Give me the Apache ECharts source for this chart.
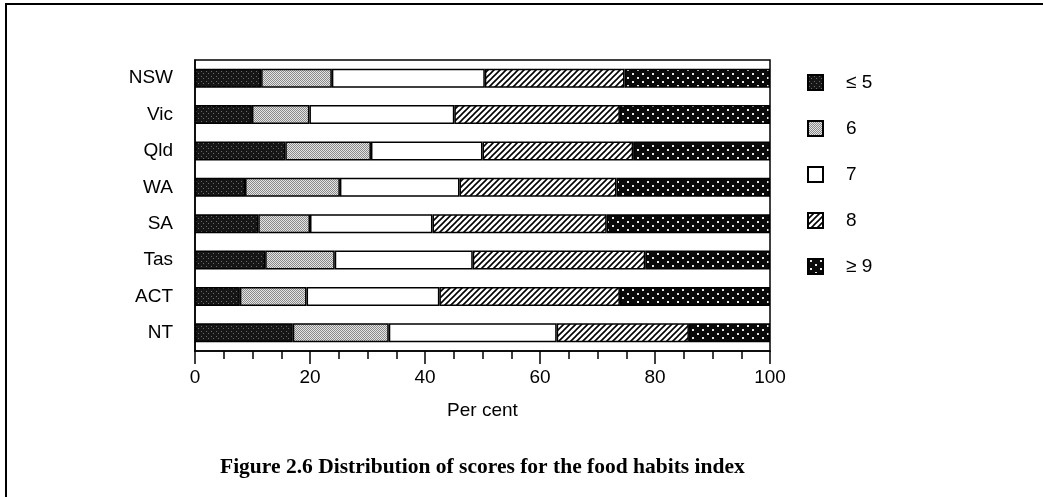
<!DOCTYPE html>
<html>
<head>
<meta charset="utf-8">
<script src="https://cdn.jsdelivr.net/npm/echarts@6/dist/echarts.min.js"></script>
<style>
  html, body { margin: 0; padding: 0; background: #fff; }
  #chart { width: 1043px; height: 497px; }
</style>
</head>
<body>
<div id="chart"></div>
<script>
  // states, top to bottom
  var states = ["NSW", "Vic", "Qld", "WA", "SA", "Tas", "ACT", "NT"];
  var scoreNames = ["\u2264 5", "6", "7", "8", "\u2265 9"];
  // per cent in each score band
  var le5 = [11.5, 9.9, 15.7, 8.7, 11.0, 12.2, 7.8, 17.0];
  var s6  = [12.3, 10.0, 14.9, 16.5, 9.0, 12.1, 11.6, 16.7];
  var s7  = [26.6, 25.2, 19.4, 20.8, 21.3, 24.0, 23.1, 29.2];
  var s8  = [24.3, 28.8, 26.2, 27.3, 30.3, 30.0, 31.4, 23.0];
  var ge9 = [25.3, 26.1, 23.8, 26.7, 28.4, 21.7, 26.1, 14.1];
  var xTicks = [0, 20, 40, 60, 80, 100];

  // small canvas patterns to mimic the print shadings
  function makePattern(w, h, draw) {
    var c = document.createElement("canvas");
    c.width = w; c.height = h;
    draw(c.getContext("2d"));
    return { image: c, repeat: "repeat" };
  }
  var patDark = makePattern(5, 5, function (g) {
    g.fillStyle = "#161616"; g.fillRect(0, 0, 5, 5);
    g.fillStyle = "#6a6a6a"; g.fillRect(1, 1, 1, 1); g.fillRect(3, 3, 1, 1);
  });
  var patLight = makePattern(2, 2, function (g) {
    g.fillStyle = "#e4e4e4"; g.fillRect(0, 0, 2, 2);
    g.fillStyle = "#8a8a8a"; g.fillRect(0, 0, 1, 1); g.fillRect(1, 1, 1, 1);
  });
  var patHatch = makePattern(6, 6, function (g) {
    g.fillStyle = "#fff"; g.fillRect(0, 0, 6, 6);
    g.strokeStyle = "#000"; g.lineWidth = 1.6;
    g.beginPath();
    g.moveTo(-1, 7); g.lineTo(7, -1);
    g.moveTo(-1, 1); g.lineTo(1, -1);
    g.moveTo(5, 7); g.lineTo(7, 5);
    g.stroke();
  });
  var patDots = makePattern(10, 8, function (g) {
    g.fillStyle = "#0a0a0a"; g.fillRect(0, 0, 10, 8);
    g.fillStyle = "#e8e8e8"; g.fillRect(2, 1, 2, 2); g.fillRect(7, 5, 2, 2);
  });

  var fills = [patDark, patLight, "#ffffff", patHatch, patDots];
  var values = [le5, s6, s7, s8, ge9];

  var chart = echarts.init(document.getElementById("chart"));
  chart.setOption({
    animation: false,
    textStyle: { fontFamily: "Liberation Sans, Arial, sans-serif", color: "#000" },
    title: {
      text: "Figure 2.6 Distribution of scores for the food habits index",
      left: 215,
      top: 451,
      textStyle: {
        fontFamily: "Liberation Serif, serif",
        fontWeight: "bold",
        fontSize: 21.5,
        color: "#000"
      }
    },
    graphic: [
      { type: "line", shape: { x1: 5, y1: 4, x2: 1043, y2: 4 }, style: { stroke: "#000", lineWidth: 2 } },
      { type: "line", shape: { x1: 6, y1: 4, x2: 6, y2: 497 }, style: { stroke: "#000", lineWidth: 2 } }
    ],
    legend: {
      orient: "vertical",
      left: 802,
      top: 68,
      icon: "rect",
      itemWidth: 15,
      itemHeight: 15,
      itemGap: 27,
      selectedMode: false,
      textStyle: { fontSize: 19, color: "#000", padding: [0, 0, 0, 18] },
      data: scoreNames
    },
    grid: {
      left: 195,
      right: 273,
      top: 60,
      bottom: 146,
      show: true,
      borderColor: "#000",
      borderWidth: 1.5
    },
    xAxis: {
      type: "value",
      min: 0,
      max: 100,
      interval: 20,
      name: "Per cent",
      nameLocation: "middle",
      nameGap: 50,
      nameTextStyle: { fontSize: 19, color: "#000" },
      axisLine: { show: true, lineStyle: { color: "#000", width: 1.5 } },
      axisTick: { show: true, length: 13, lineStyle: { color: "#000", width: 1.5 } },
      minorTick: { show: true, splitNumber: 4, length: 8, lineStyle: { color: "#000", width: 1.5 } },
      splitLine: { show: false },
      axisLabel: {
        fontSize: 19,
        color: "#000",
        margin: 17,
        formatter: function (v) { return xTicks.indexOf(v) >= 0 ? String(v) : ""; }
      }
    },
    yAxis: {
      type: "category",
      inverse: true,
      data: states,
      axisLine: { lineStyle: { color: "#000", width: 1.5 } },
      axisTick: { length: 16, lineStyle: { color: "#000", width: 1.5 } },
      axisLabel: { fontSize: 19, color: "#000", margin: 22 }
    },
    series: scoreNames.map(function (name, i) {
      return {
        name: name,
        type: "bar",
        stack: "total",
        barWidth: 19,
        itemStyle: { color: fills[i], borderColor: "#000", borderWidth: 1.5 },
        data: values[i]
      };
    })
  });
</script>
</body>
</html>
